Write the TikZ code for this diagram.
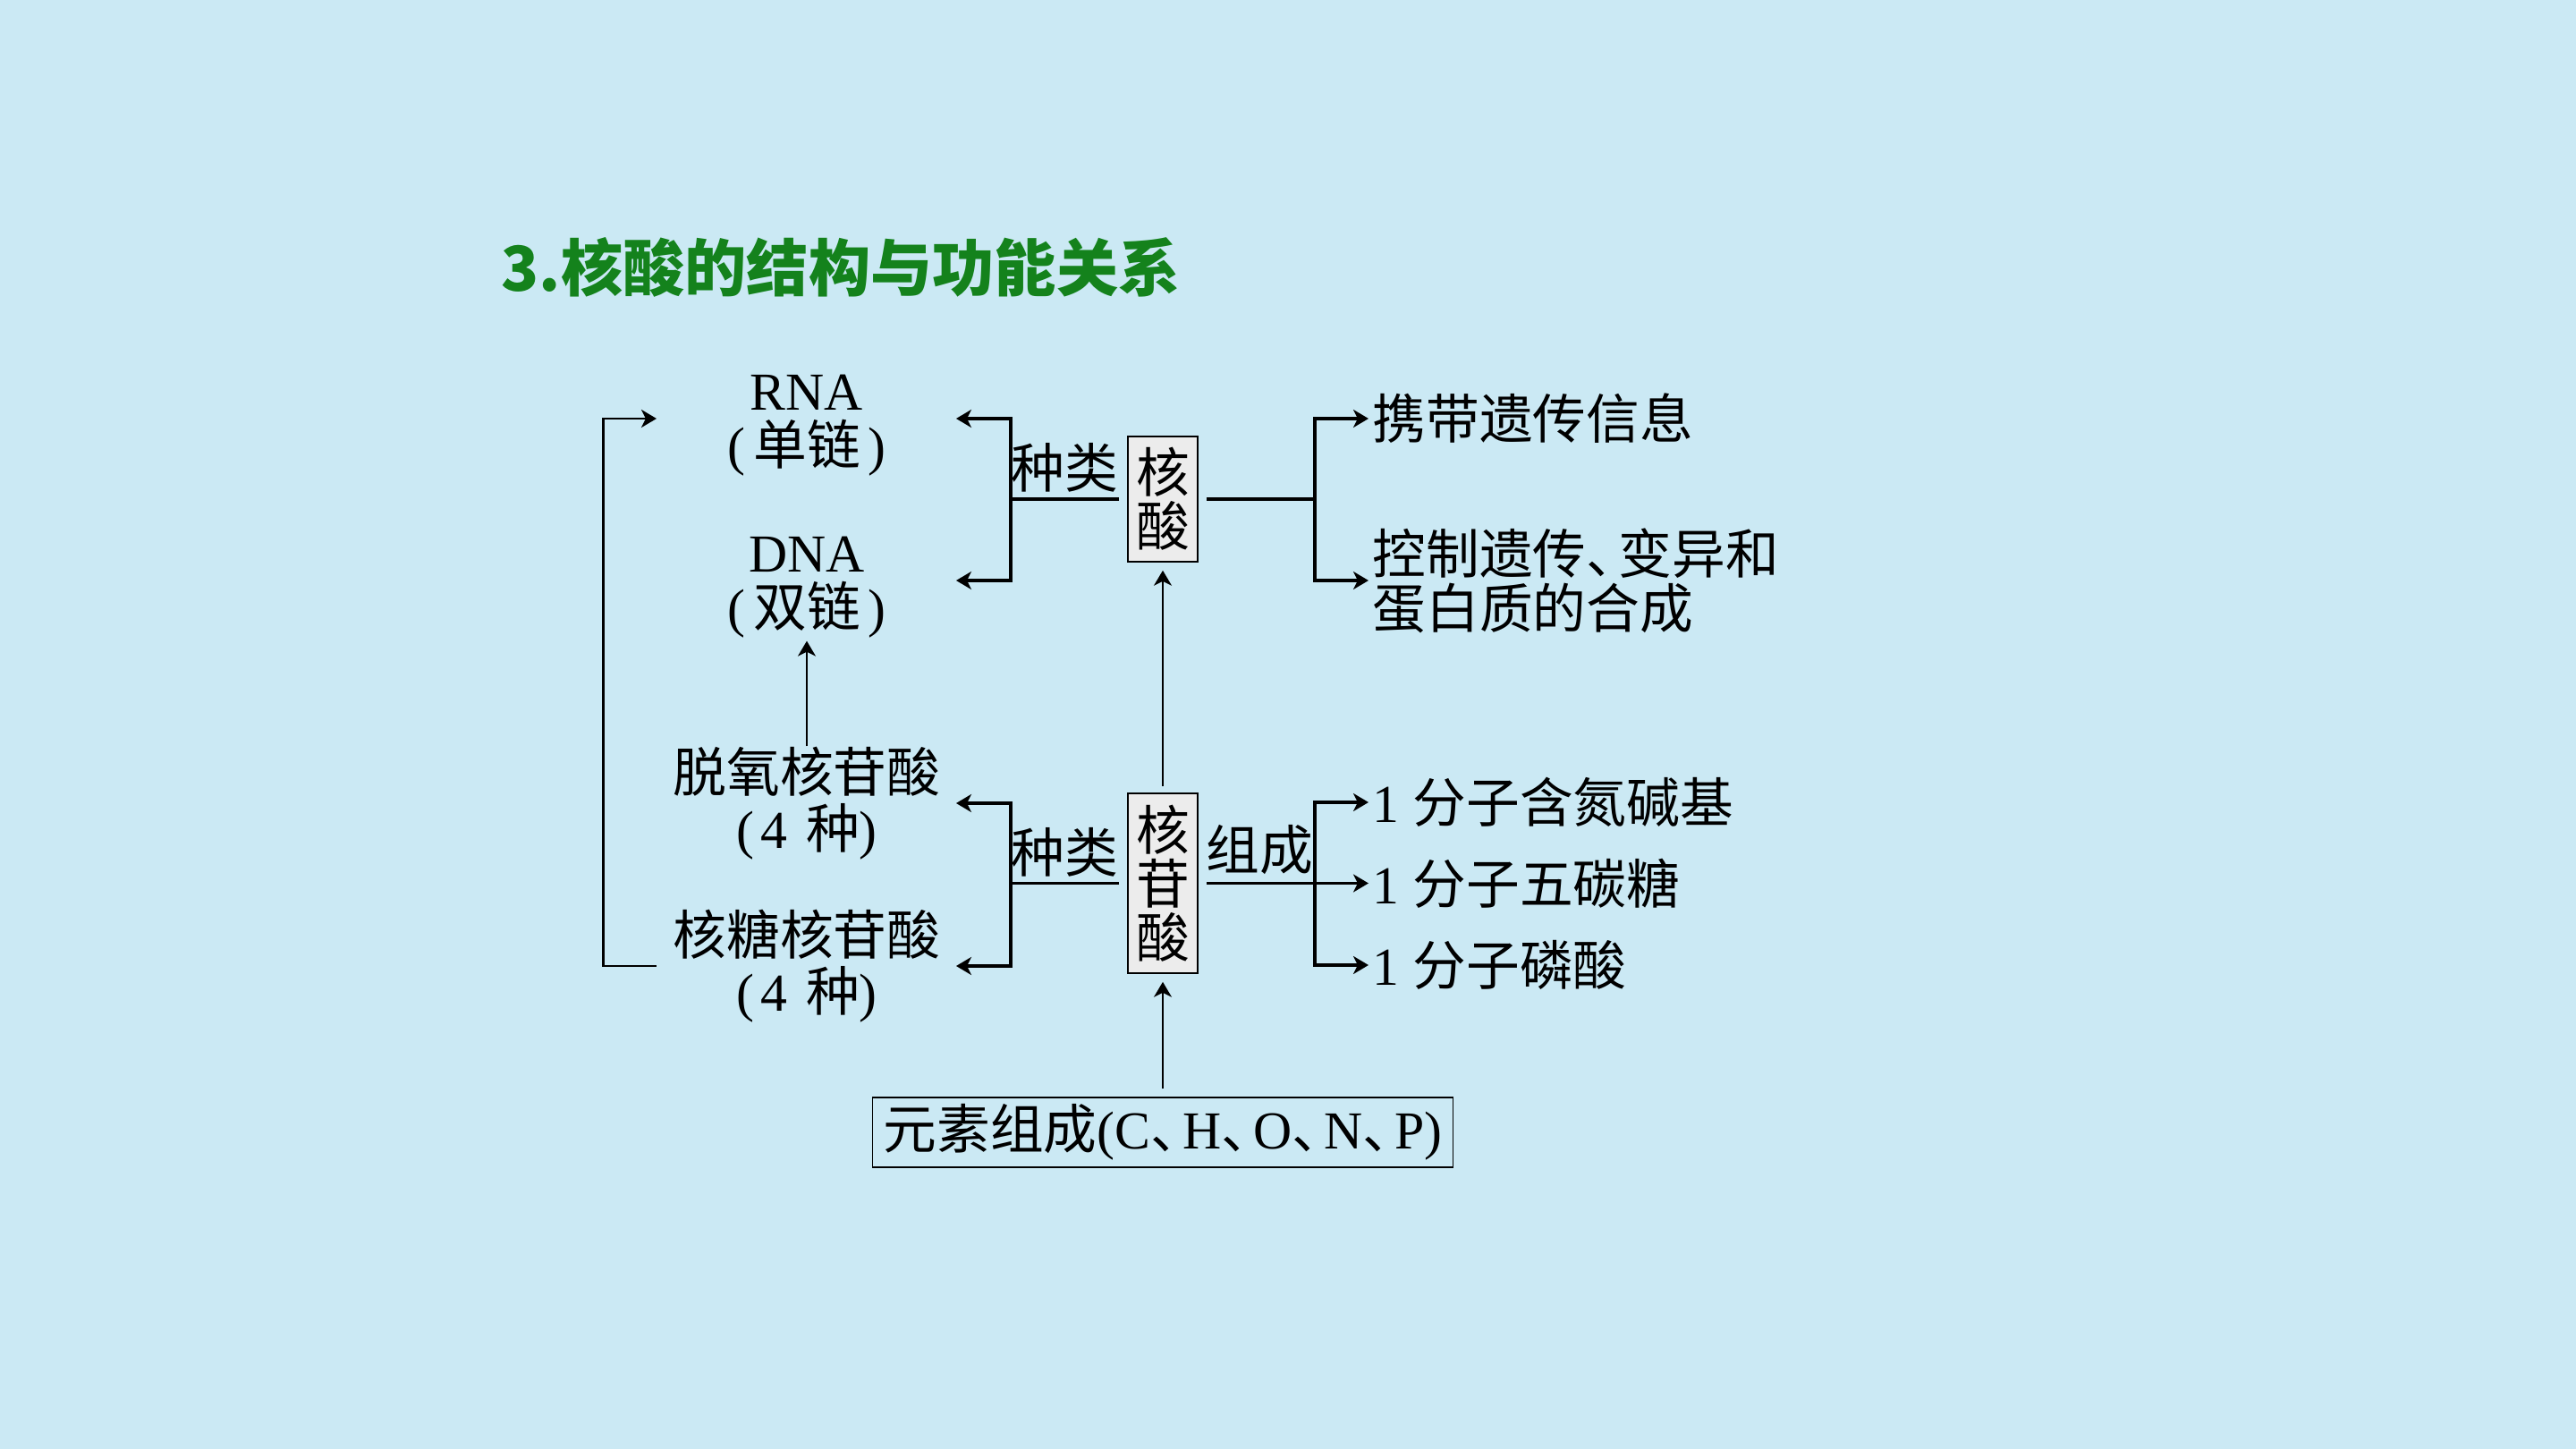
\documentclass[tikz,border=0pt]{standalone}
\usepackage{fontspec}
\setmainfont{Liberation Serif}
\newfontfamily\cjk{Noto Sans CJK SC}
\usetikzlibrary{arrows.meta}
\definecolor{bg}{RGB}{203,233,244}
\definecolor{titlegreen}{RGB}{20,130,28}
\definecolor{boxgray}{RGB}{236,236,236}
\newcommand{\zh}[1]{{\cjk #1}}
\newcommand{\dun}{\zh{、}\kern-0.4em}
\tikzset{
  hd/.tip={Stealth[length=0.17cm,width=0.2cm,inset=0.05cm]},
  txt/.style={inner sep=0pt, font=\fontsize{17pt}{17.9pt}\selectfont, align=center},
  ltxt/.style={inner sep=0pt, font=\fontsize{17pt}{17.4pt}\selectfont, align=center},
  rtxt/.style={inner sep=0pt, font=\fontsize{17pt}{17.4pt}\selectfont, align=left, anchor=west},
  vbox/.style={draw, line width=0.016cm, fill=boxgray, inner sep=0pt, minimum width=0.78cm,
     align=center, font=\cjk\fontsize{17pt}{17pt}\selectfont},
  thk/.style={line width=0.036cm, line join=miter},
  mid/.style={line width=0.028cm, line join=miter},
  thn/.style={line width=0.02cm},
}
\begin{document}
\begin{tikzpicture}
\fill[bg] (0,0) rectangle (28.8,-16.2);
\useasboundingbox (0,0) rectangle (28.8,-16.2);

% title
\node[anchor=west, inner sep=0pt, text=titlegreen, font=\cjk\bfseries\fontsize{19.7pt}{24pt}\selectfont]
  (title) at (5.60,-2.99) {3.核酸的结构与功能关系};

% helper coordinates (x positions)
\coordinate (tipL) at (10.69,0);
\coordinate (brL) at (11.30,0);
\coordinate (brR) at (14.70,0);
\coordinate (tipR) at (15.30,0);
\coordinate (loopx) at (6.745,0);
\coordinate (loopTip) at (7.34,0);

% left column
\node[ltxt] (rna) at (9.02,-4.68) {\rule{0pt}{0.54cm}RNA\\(\kern0.15em\zh{单链}\kern0.15em)};
\node[ltxt] (dna) at (9.02,-6.49) {\rule{0pt}{0.54cm}DNA\\(\kern0.15em\zh{双链}\kern0.15em)};
\node[txt] (deoxy) at (9.02,-8.98) {\zh{脱氧核苷酸}\\(\kern0.12em4\kern0.35em\zh{种})};
\node[txt] (ribo) at (9.02,-10.80) {\zh{核糖核苷酸}\\(\kern0.12em4\kern0.35em\zh{种})};

% labels
\node[txt] (zl1) at (11.90,-5.23) {\zh{种类}};
\node[txt] (zl2) at (11.90,-9.53) {\zh{种类}};
\node[txt] (zc) at (14.08,-9.50) {\zh{组成}};

% boxes
\node[vbox, minimum height=1.40cm] (hesuan) at (13.00,-5.58) {核\\酸};
\node[vbox, minimum height=2.01cm] (hgsuan) at (13.00,-9.875) {核\\苷\\酸};
\node[draw, line width=0.016cm, inner sep=0pt, minimum width=6.49cm, minimum height=0.78cm,
  font=\fontsize{17pt}{17.9pt}\selectfont] (elem) at (13.00,-12.66)
  {\zh{元素组成}(C\dun H\dun O\dun N\dun P)};

% right column
\node[rtxt] (carry) at (15.34,-4.68) {\zh{携带遗传信息}};
\node[rtxt] (control) at (15.34,-6.49) {\zh{控制遗传、}\kern-0.4em\zh{变异和}\\\zh{蛋白质的合成}};
\node[rtxt] (base) at (15.34,-8.97) {1\kern0.25em\zh{分子含氮碱基}};
\node[rtxt] (sugar) at (15.34,-9.875) {1\kern0.25em\zh{分子五碳糖}};
\node[rtxt] (phos) at (15.34,-10.79) {1\kern0.25em\zh{分子磷酸}};

% upper brackets
\draw[thk,hd-hd] (rna -| tipL) -- (rna -| brL) -- (dna -| brL) -- (dna -| tipL);
\draw[thk] ([xshift=-0.09cm]hesuan.west) -- (hesuan.west -| brL);
\draw[thk,hd-hd] (carry.west -| tipR) -- (carry.west -| brR) -- (control.west -| brR) -- (control.west -| tipR);
\draw[thk] ([xshift=0.09cm]hesuan.east) -- (hesuan.east -| brR);

% lower brackets
\draw[thk,hd-hd] (deoxy -| tipL) -- (deoxy -| brL) -- (ribo -| brL) -- (ribo -| tipL);
\draw[thk] ([xshift=-0.09cm]hgsuan.west) -- (hgsuan.west -| brL);
\draw[thk,hd-hd] (base.west -| tipR) -- (base.west -| brR) -- (phos.west -| brR) -- (phos.west -| tipR);
\draw[thk,-hd] ([xshift=0.09cm]hgsuan.east) -- (sugar.west -| tipR);

% loop from ribo to rna
\draw[mid,-hd] ([xshift=-0.18cm]ribo.west) -- (ribo.west -| loopx) -- (rna.west -| loopx) -- (rna.west -| loopTip);

% vertical arrows
\draw[thn,-hd] ([yshift=0.07cm]hgsuan.north) -- ([yshift=-0.09cm]hesuan.south);
\draw[thn,-hd] ([yshift=0.09cm]elem.north) -- ([yshift=-0.09cm]hgsuan.south);
\draw[thn,-hd] (deoxy.north) -- ([yshift=-0.03cm]dna.south);
\end{tikzpicture}
\end{document}
